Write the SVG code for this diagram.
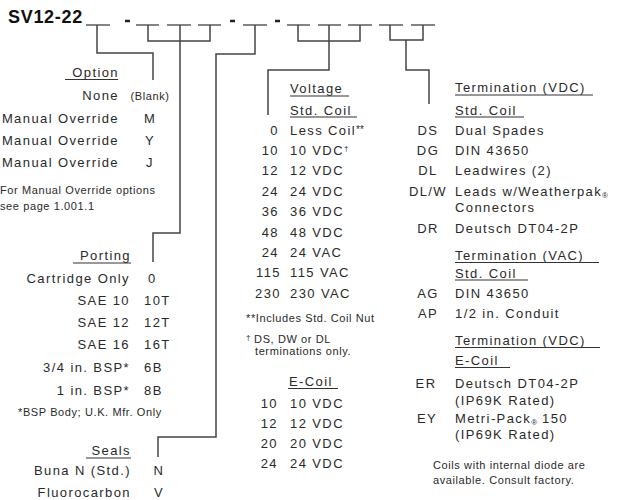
<svg xmlns="http://www.w3.org/2000/svg" width="621" height="500" viewBox="0 0 621 500">
<style>
text{font-family:"Liberation Sans",Arial,sans-serif;fill:#2a2a2a;font-size:13px;letter-spacing:1.4px}
.s{font-size:11px;letter-spacing:0.6px}
.e{text-anchor:end}
.m{text-anchor:middle}
.t{font-size:18px;font-weight:bold;letter-spacing:0.7px;fill:#111}
.ln{stroke:#444;stroke-width:1.5;fill:none}
.ul{stroke:#333;stroke-width:1.2}
.sup{font-size:8px;letter-spacing:0}
.dash{stroke:#222;stroke-width:2.5}
</style>
<rect width="621" height="500" fill="#fff"/>
<g id="part-number">
<text class="t" x="8" y="23">SV12-22</text>
<g class="ul" stroke-width="1.5">
<line x1="86" y1="25" x2="110" y2="25"/>
<line x1="136" y1="25" x2="159" y2="25"/>
<line x1="167" y1="25" x2="191" y2="25"/>
<line x1="198" y1="25" x2="221" y2="25"/>
<line x1="243" y1="25" x2="267" y2="25"/>
<line x1="287" y1="25" x2="310" y2="25"/>
<line x1="318" y1="25" x2="341" y2="25"/>
<line x1="348" y1="25" x2="372" y2="25"/>
<line x1="379" y1="25" x2="403" y2="25"/>
<line x1="411" y1="25" x2="435" y2="25"/>
</g>
<line class="dash" x1="125" y1="21" x2="130" y2="21"/>
<line class="dash" x1="230" y1="21" x2="235" y2="21"/>
<line class="dash" x1="275" y1="21" x2="280" y2="21"/>
</g>
<g id="connectors" class="ln">
<polyline points="97,25 97,53 153,53 153,80"/>
<polyline points="148,25 148,41 210,41 210,25"/>
<polyline points="180,25 180,233 153,233 153,262"/>
<polyline points="255,25 255,54 216,54 216,437 158,437 158,457"/>
<polyline points="298,25 298,41 360,41 360,25"/>
<polyline points="329,25 329,70 268,70 268,115"/>
<polyline points="390,25 390,40 423,40 423,25"/>
<polyline points="406,40 406,70 429,70 429,104"/>
</g>
<g id="option">
<text class="e" x="119" y="77">Option</text>
<line class="ul" x1="65" y1="79.5" x2="118" y2="79.5"/>
<text class="e" x="119" y="99.5">None</text>
<text class="s m" x="150" y="99.5" letter-spacing="0.3">(Blank)</text>
<text class="e" x="119" y="122.5">Manual Override</text>
<text class="m" x="150" y="122.5">M</text>
<text class="e" x="119" y="144.5">Manual Override</text>
<text class="m" x="150" y="144.5">Y</text>
<text class="e" x="119" y="166.5">Manual Override</text>
<text class="m" x="150" y="166.5">J</text>
<text class="s" x="0" y="194">For Manual Override options</text>
<text class="s" x="0" y="210">see page 1.001.1</text>
</g>
<g id="porting">
<text class="e" x="131" y="259.5">Porting</text>
<line class="ul" x1="73" y1="263" x2="131" y2="263"/>
<text class="e" x="130" y="282.5">Cartridge Only</text>
<text x="148" y="282.5">0</text>
<text class="e" x="130" y="304.5">SAE 10</text>
<text x="144" y="304.5">10T</text>
<text class="e" x="130" y="326.5">SAE 12</text>
<text x="144" y="326.5">12T</text>
<text class="e" x="130" y="348.5">SAE 16</text>
<text x="144" y="348.5">16T</text>
<text class="e" x="130" y="371.5">3/4 in. BSP*</text>
<text x="144" y="371.5">6B</text>
<text class="e" x="130" y="394.5">1 in. BSP*</text>
<text x="144" y="394.5">8B</text>
<text class="s" x="18" y="416">*BSP Body; U.K. Mfr. Only</text>
</g>
<g id="seals">
<text class="e" x="131" y="454.5">Seals</text>
<line class="ul" x1="86" y1="458" x2="131" y2="458"/>
<text class="e" x="131" y="474.5">Buna N (Std.)</text>
<text class="m" x="159" y="474.5">N</text>
<text class="e" x="131" y="496.5">Fluorocarbon</text>
<text class="m" x="159" y="496.5">V</text>
</g>
<g id="voltage">
<text x="290" y="92.5">Voltage</text>
<line class="ul" x1="290" y1="96" x2="349" y2="96"/>
<text x="290" y="114.5">Std. Coil</text>
<line class="ul" x1="290" y1="117" x2="357" y2="117"/>
<text class="e" x="279" y="134.5">0</text><text x="290" y="134.5">Less Coil<tspan font-size="10" letter-spacing="0" dy="-2">**</tspan></text>
<text class="e" x="279" y="154.9">10</text><text x="290" y="154.9">10 VDC<tspan class="sup" dy="-4">†</tspan></text>
<text class="e" x="279" y="175.3">12</text><text x="290" y="175.3">12 VDC</text>
<text class="e" x="279" y="195.7">24</text><text x="290" y="195.7">24 VDC</text>
<text class="e" x="279" y="216.1">36</text><text x="290" y="216.1">36 VDC</text>
<text class="e" x="279" y="236.5">48</text><text x="290" y="236.5">48 VDC</text>
<text class="e" x="279" y="256.9">24</text><text x="290" y="256.9">24 VAC</text>
<text class="e" x="281" y="277.3">115</text><text x="290" y="277.3">115 VAC</text>
<text class="e" x="281" y="297.7">230</text><text x="290" y="297.7">230 VAC</text>
<text class="s" x="246" y="322" letter-spacing="0.2">**Includes Std. Coil Nut</text>
<text class="s" x="246" y="343" letter-spacing="0.2"><tspan class="sup" dy="-3">†</tspan><tspan dy="3"> DS, DW or DL</tspan></text>
<text class="s" x="255" y="355" letter-spacing="0.2">terminations only.</text>
<text x="289" y="385.5">E-Coil</text>
<line class="ul" x1="288" y1="388.5" x2="338" y2="388.5"/>
<text class="e" x="278" y="407.5">10</text><text x="290" y="407.5">10 VDC</text>
<text class="e" x="278" y="427.5">12</text><text x="290" y="427.5">12 VDC</text>
<text class="e" x="278" y="447.5">20</text><text x="290" y="447.5">20 VDC</text>
<text class="e" x="278" y="467.5">24</text><text x="290" y="467.5">24 VDC</text>
</g>
<g id="termination">
<text x="455" y="91.5">Termination (VDC)</text>
<line class="ul" x1="455" y1="95" x2="593" y2="95"/>
<text x="455" y="114.5">Std. Coil</text>
<line class="ul" x1="455" y1="117" x2="524" y2="117"/>
<text class="m" x="428" y="134.5">DS</text><text x="455" y="134.5">Dual Spades</text>
<text class="m" x="428" y="154.5">DG</text><text x="455" y="154.5">DIN 43650</text>
<text class="m" x="428" y="174.5">DL</text><text x="455" y="174.5">Leadwires (2)</text>
<text class="m" x="428" y="195.5">DL/W</text><text x="455" y="195.5">Leads w/Weatherpak<tspan class="sup" dy="2">®</tspan></text>
<text x="455" y="211.5">Connectors</text>
<text class="m" x="428" y="232.5">DR</text><text x="455" y="232.5">Deutsch DT04-2P</text>
<text x="455" y="259.5">Termination (VAC)</text>
<line class="ul" x1="455" y1="262.5" x2="599" y2="262.5"/>
<text x="455" y="277.5">Std. Coil</text>
<line class="ul" x1="455" y1="280" x2="528" y2="280"/>
<text class="m" x="428" y="297.5">AG</text><text x="455" y="297.5">DIN 43650</text>
<text class="m" x="428" y="317.5">AP</text><text x="455" y="317.5">1/2 in. Conduit</text>
<text x="455" y="344.5">Termination (VDC)</text>
<line class="ul" x1="455" y1="347.5" x2="600" y2="347.5"/>
<text x="455" y="364.5">E-Coil</text>
<line class="ul" x1="455" y1="367.5" x2="510" y2="367.5"/>
<text class="m" x="426" y="387.5">ER</text><text x="455" y="387.5">Deutsch DT04-2P</text>
<text x="455" y="404.5">(IP69K Rated)</text>
<text class="m" x="427" y="422.5">EY</text><text x="455" y="422.5">Metri-Pack<tspan class="sup" dy="2">®</tspan><tspan dy="-2"> 150</tspan></text>
<text x="455" y="438.5">(IP69K Rated)</text>
<text class="s" x="433" y="469" letter-spacing="0.2">Coils with internal diode are</text>
<text class="s" x="433" y="484" letter-spacing="0.2">available. Consult factory.</text>
</g>
</svg>
